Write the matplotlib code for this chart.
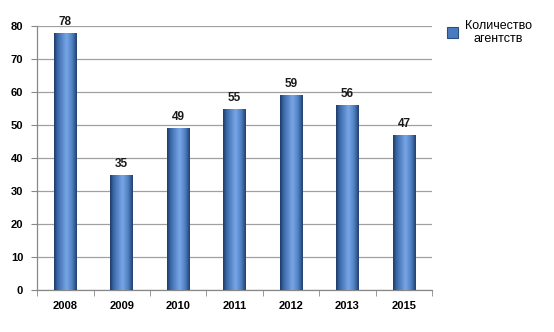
import matplotlib
matplotlib.use("Agg")
import matplotlib.pyplot as plt
import numpy as np
from matplotlib.colors import LinearSegmentedColormap
from matplotlib.patches import Patch

years = ["2008", "2009", "2010", "2011", "2012", "2013", "2015"]
agents = [78, 35, 49, 55, 59, 56, 47]
series_name = "Количество\nагентств"

plt.rcParams['font.family'] = ['Liberation Sans', 'DejaVu Sans']

fig = plt.figure(figsize=(5.54, 3.32), dpi=100)
ax = fig.add_axes([0.067, 0.1265, 0.713, 0.795])

x = np.arange(len(years))
bars = ax.bar(x, agents, width=0.4, color="#4f81bd", zorder=2)

cmap = LinearSegmentedColormap.from_list(
    "cyl", [(0, "#1f3b66"), (0.15, "#3a68a8"), (0.55, "#78a6e6"), (0.8, "#4f80c4"), (1, "#22406e")])
grad = np.linspace(0, 1, 64).reshape(1, -1)
for b in bars:
    bx, by, bw, bh = b.get_x(), b.get_y(), b.get_width(), b.get_height()
    im = ax.imshow(grad, cmap=cmap, aspect="auto", extent=(bx, bx + bw, by, by + bh),
                   zorder=3, interpolation="bicubic")
    im.set_clip_path(b)
    b.set_facecolor("none")
    b.set_edgecolor("none")
    ax.text(bx + bw / 2, by + bh + 1.5, str(int(bh)), ha="center", va="bottom",
            fontsize=8.5, fontweight="bold", color="#1a1a1a")

ax.set_xlim(-0.5, len(years) - 0.5)
ax.set_ylim(0, 80)
ax.set_yticks(range(0, 81, 10))
ax.set_xticks(x)
ax.set_xticklabels(years, fontsize=8, fontweight="bold")
ax.tick_params(axis="y", labelsize=8, length=4, color="#888888", pad=6)
for lbl in ax.get_yticklabels():
    lbl.set_fontweight("bold")
ax.tick_params(axis="x", length=0, pad=8)
ax.set_xticks(np.arange(-0.5, len(years), 1), minor=True)
ax.tick_params(axis="x", which="minor", length=4, color="#888888")

ax.grid(axis="y", color="#a0a0a0", linewidth=0.9, zorder=0)
ax.set_axisbelow(True)
for s in ["top", "right"]:
    ax.spines[s].set_visible(False)
for s in ["left", "bottom"]:
    ax.spines[s].set_color("#888888")
    ax.spines[s].set_linewidth(0.9)

handle = Patch(facecolor="#4a7bc0", edgecolor="#2a4f85", linewidth=0.8)
fig.legend([handle], [series_name], loc="upper left", bbox_to_anchor=(0.787, 0.975),
           frameon=False, fontsize=9, handlelength=0.9, handleheight=0.9,
           handletextpad=0.5)
for t in fig.legends[0].get_texts():
    t.set_ha("center")
    t.set_multialignment("center")

fig.savefig("out.png", dpi=100)
